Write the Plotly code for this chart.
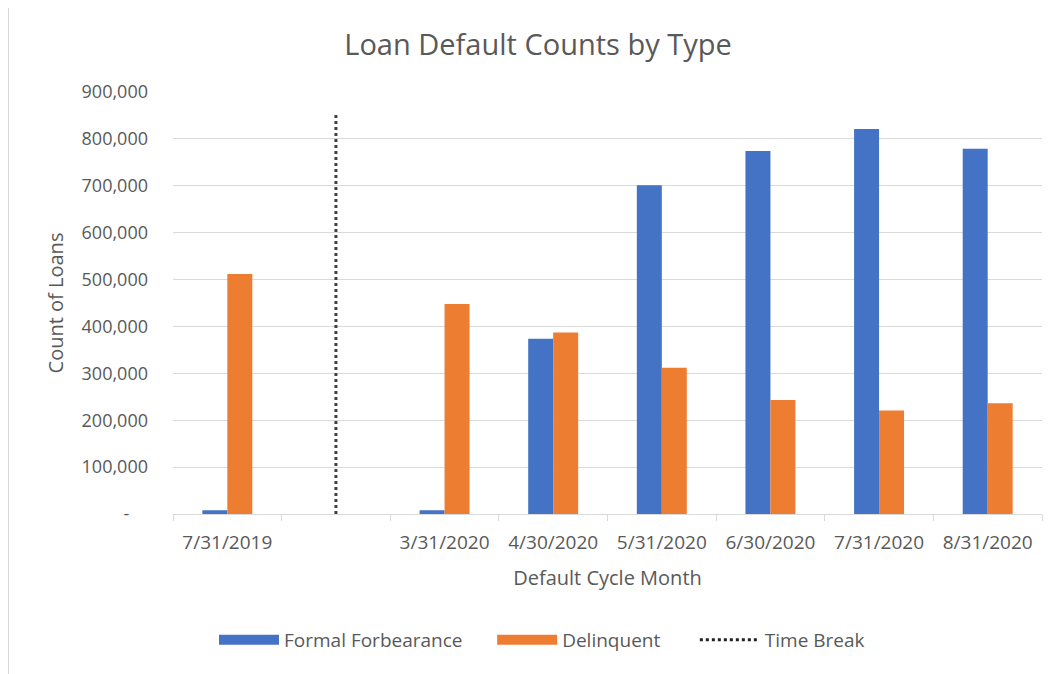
import plotly.graph_objects as go

categories = ["7/31/2019", " ", "3/31/2020", "4/30/2020", "5/31/2020", "6/30/2020", "7/31/2020", "8/31/2020"]
formal_forbearance = [8000, None, 8000, 374000, 701000, 774000, 821000, 779000]
delinquent = [512000, None, 448000, 387000, 312000, 243000, 221000, 236000]
time_break_x = [" ", " "]
time_break_y = [0, 855000]
y_tickvals = [0, 100000, 200000, 300000, 400000, 500000, 600000, 700000, 800000, 900000]
y_ticktext = ["-\u00a0\u00a0\u00a0\u00a0", "100,000", "200,000", "300,000", "400,000", "500,000",
              "600,000", "700,000", "800,000", "900,000"]

FONT = "Open Sans"
GREY = "#595959"
BLUE = "#4472C4"
ORANGE = "#ED7D31"
OFF = 8  # page body margin
W, H = 1048, 666
L, R, T, B = 173 - OFF, 14, 92 - OFF, H - (514 - OFF)
NB = "\u00a0"

fig = go.Figure()
fig.add_trace(go.Bar(name="Formal Forbearance", x=categories, y=formal_forbearance,
                     marker=dict(color=BLUE, line=dict(width=0)), showlegend=False))
fig.add_trace(go.Bar(name="Delinquent", x=categories, y=delinquent,
                     marker=dict(color=ORANGE, line=dict(width=0)), showlegend=False))
fig.add_trace(go.Scatter(name="Time Break", x=time_break_x, y=time_break_y, mode="lines",
                         line=dict(color="#404040", width=3, dash="dot"), showlegend=False))
# legend-only entries (Excel-style wide swatches)
fig.add_trace(go.Scatter(name="Formal Forbearance" + NB * 5, x=[None], y=[None], mode="lines",
                         line=dict(color=BLUE, width=10)))
fig.add_trace(go.Scatter(name="Delinquent" + NB * 6, x=[None], y=[None], mode="lines",
                         line=dict(color=ORANGE, width=10)))
fig.add_trace(go.Scatter(name="Time Break", x=[None], y=[None], mode="lines",
                         line=dict(color="#202020", width=3, dash="dot")))

pw = W - L - R
ph = H - T - B
def px2x(p):
    return (p - L) / pw
def py2y(p):
    return (H - B - p) / ph

fig.update_layout(
    width=W, height=H,
    margin=dict(l=L, r=R, t=T, b=B),
    paper_bgcolor="white", plot_bgcolor="white",
    barmode="group", bargap=0.54, bargroupgap=0,
    font=dict(family=FONT, color=GREY, size=18),
    title=dict(text="Loan Default Counts by Type", x=(538 - OFF) / W, xanchor="center",
               xref="container", y=1 - (45 - OFF) / H, yref="container", yanchor="middle",
               font=dict(size=29, color=GREY, family=FONT)),
    xaxis=dict(type="category", categoryorder="array", categoryarray=categories,
               showgrid=False, showline=True, linecolor="#d9d9d9", linewidth=1,
               ticks="outside", tickson="boundaries", ticklen=6, tickcolor="#d9d9d9",
               tickfont=dict(size=19, color=GREY), ticklabelstandoff=11,
               title=dict(text="Default Cycle Month", font=dict(size=20, color=GREY), standoff=17),
               range=[-0.5, 7.5]),
    yaxis=dict(range=[0, 900000], tickvals=y_tickvals, ticktext=y_ticktext,
               showgrid=True, gridcolor="#d9d9d9", gridwidth=1, zeroline=False,
               showline=False, ticks="", tickfont=dict(size=18, color=GREY),
               ticklabelstandoff=24,
               title=dict(text="Count of Loans", font=dict(size=20, color=GREY), standoff=12)),
    legend=dict(orientation="h", xref="container", x=(542 - OFF) / W, xanchor="center",
                yref="container", y=1 - (640 - OFF) / H, yanchor="middle",
                font=dict(size=19, color=GREY, family=FONT), itemwidth=60,
                traceorder="normal"),
    showlegend=True,
    shapes=[dict(type="line", xref="paper", yref="paper",
                 x0=px2x(0.5), x1=px2x(0.5), y0=py2y(H), y1=py2y(-10),
                 line=dict(color="#d9d9d9", width=1), layer="below")],
)

fig.write_html("out.html")
